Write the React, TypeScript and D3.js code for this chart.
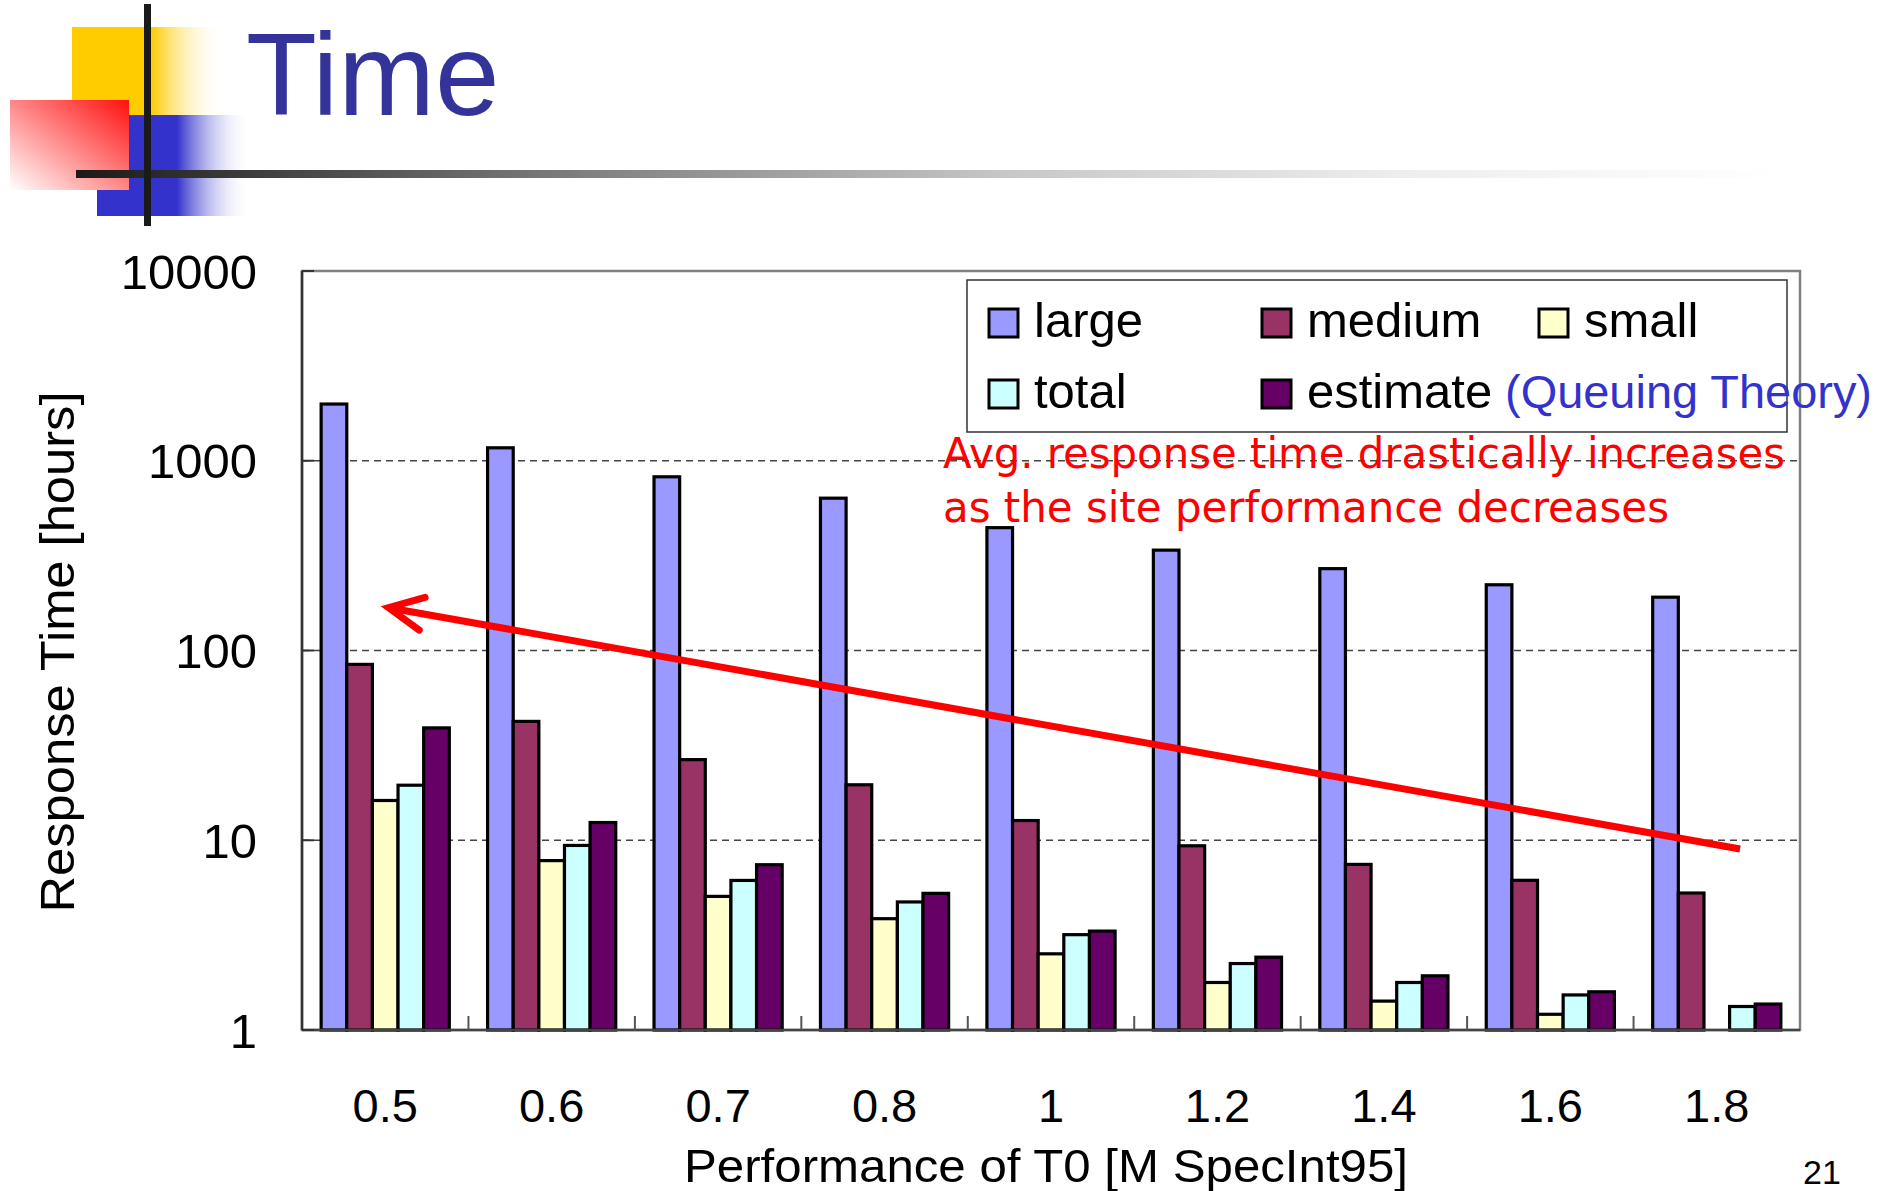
import React from "react";
import * as d3 from "d3";

const categories = ["0.5", "0.6", "0.7", "0.8", "1", "1.2", "1.4", "1.6", "1.8"];
const seriesNames = ["large", "medium", "small", "total", "estimate"];
const large = [1990, 1170, 823, 635, 444, 338, 270, 222, 191];
const medium = [84.5, 42.3, 26.6, 19.6, 12.7, 9.35, 7.46, 6.15, 5.27];
const small: (number | null)[] = [16.2, 7.81, 5.06, 3.86, 2.52, 1.78, 1.42, 1.21, null];
const total = [19.5, 9.39, 6.14, 4.73, 3.18, 2.24, 1.78, 1.53, 1.33];
const estimate = [39.1, 12.4, 7.43, 5.25, 3.32, 2.42, 1.93, 1.59, 1.37];
const seriesColors = ["#9999ff", "#993366", "#ffffcc", "#ccffff", "#660066"];
const yTicks = [1, 10, 100, 1000, 10000];
const gridValues = [10, 100, 1000];

const titleText = "Time";
const yTitle = "Response Time [hours]";
const xTitle = "Performance of T0 [M SpecInt95]";
const noteLines = ["Avg. response time drastically increases", "as the site performance decreases"];
const estimateNote = "(Queuing Theory)";
const pageNumber = "21";

// annotation arrow in data space: [category, fraction within band, value]
const arrowTail = { cat: "1.8", frac: 0.64, value: 9 };
const arrowTip = { cat: "0.5", frac: 0.52, value: 168 };

const seriesData = [large, medium, small, total, estimate];

const W = 1892;
const H = 1191;
const plot = { left: 302, right: 1800, top: 271, bottom: 1030 };
const ARIAL = "'Liberation Sans', Arial, sans-serif";

export default function App() {
  const x = d3.scaleBand<string>().domain(categories).range([plot.left, plot.right]).paddingInner(0).paddingOuter(0);
  const bw = x.bandwidth();
  const inner = d3.scaleBand<string>().domain(seriesNames).range([bw * 0.115, bw * 0.885]).padding(0);
  const y = d3.scaleLog().domain([1, 10000]).range([plot.bottom, plot.top]);

  const tailX = (x(arrowTail.cat) as number) + bw * arrowTail.frac;
  const tailY = y(arrowTail.value);
  const tipX = (x(arrowTip.cat) as number) + bw * arrowTip.frac;
  const tipY = y(arrowTip.value);
  const ang = Math.atan2(tailY - tipY, tailX - tipX);
  const barbLen = 38;
  const barbAng = (26 * Math.PI) / 180;
  const b1 = [tipX + barbLen * Math.cos(ang - barbAng), tipY + barbLen * Math.sin(ang - barbAng)];
  const b2 = [tipX + barbLen * Math.cos(ang + barbAng), tipY + barbLen * Math.sin(ang + barbAng)];

  const legend = { x: 967, y: 280, w: 820, h: 152 };
  const legendCols = [22, 295, 572];
  const legendRows = [29, 100];
  const legendPos = [
    [0, 0],
    [1, 0],
    [2, 0],
    [0, 1],
    [1, 1],
  ];

  return (
    <svg width={W} height={H} style={{ position: "absolute", left: 0, top: 0, background: "#fff" }}>
      <defs>
        <linearGradient id="gYellow" x1="0" y1="0" x2="1" y2="0">
          <stop offset="0" stopColor="#ffcc00" />
          <stop offset="0.52" stopColor="#ffcc00" />
          <stop offset="1" stopColor="#ffffff" stopOpacity="0" />
        </linearGradient>
        <linearGradient id="gBlue" x1="0" y1="0" x2="1" y2="0">
          <stop offset="0" stopColor="#3333cc" />
          <stop offset="0.52" stopColor="#3333cc" />
          <stop offset="1" stopColor="#ffffff" stopOpacity="0" />
        </linearGradient>
        <linearGradient id="gRed" x1="1" y1="0" x2="0" y2="1">
          <stop offset="0" stopColor="#ff1010" />
          <stop offset="1" stopColor="#ffffff" />
        </linearGradient>
        <linearGradient id="gLine" x1="0" y1="0" x2="1" y2="0">
          <stop offset="0" stopColor="#1a1a1a" />
          <stop offset="0.3" stopColor="#808080" />
          <stop offset="0.55" stopColor="#c8c8c8" />
          <stop offset="0.78" stopColor="#eeeeee" />
          <stop offset="1" stopColor="#ffffff" />
        </linearGradient>
      </defs>

      {/* slide decoration */}
      <rect x={72} y={27} width={152} height={88} fill="url(#gYellow)" />
      <rect x={97} y={115} width={154} height={101} fill="url(#gBlue)" />
      <rect x={10} y={100} width={119} height={90} fill="url(#gRed)" />
      <rect x={76} y={170} width={1704} height={8} fill="url(#gLine)" />
      <rect x={144} y={4} width={7} height={222} fill="#1a1a1a" />
      <text x={246} y={115} fontFamily={ARIAL} fontSize={116} fill="#333399">
        {titleText}
      </text>

      {/* plot frame */}
      <rect x={plot.left} y={plot.top} width={plot.right - plot.left} height={plot.bottom - plot.top} fill="#fff" stroke="#808080" strokeWidth={2.5} />

      {/* gridlines */}
      {gridValues.map((g) => (
        <line key={g} x1={plot.left} x2={plot.right} y1={y(g)} y2={y(g)} stroke="#444" strokeWidth={1.5} strokeDasharray="7,5" />
      ))}

      {/* bars */}
      {categories.map((c, i) => (
        <g key={c}>
          {seriesNames.map((s, si) => {
            const v = seriesData[si][i];
            if (v == null) return null;
            const bx = (x(c) as number) + (inner(s) as number);
            return (
              <rect
                key={s}
                x={bx}
                y={y(v)}
                width={inner.bandwidth()}
                height={y(1) - y(v)}
                fill={seriesColors[si]}
                stroke="#000"
                strokeWidth={3.2}
              />
            );
          })}
        </g>
      ))}

      {/* axes */}
      <line x1={plot.left} x2={plot.left} y1={plot.top} y2={plot.bottom} stroke="#333" strokeWidth={2.5} />
      <line x1={plot.left} x2={plot.right} y1={plot.bottom} y2={plot.bottom} stroke="#444" strokeWidth={2.5} />
      {yTicks.map((t) => (
        <line key={"yt" + t} x1={plot.left} x2={plot.left + 12} y1={y(t)} y2={y(t)} stroke="#333" strokeWidth={2} />
      ))}
      {categories.slice(1).map((c) => (
        <line key={"xt" + c} x1={x(c) as number} x2={x(c) as number} y1={plot.bottom} y2={plot.bottom - 14} stroke="#555" strokeWidth={2} />
      ))}

      {/* y tick labels */}
      {yTicks.map((t) => (
        <text key={"yl" + t} x={257} y={y(t)} dy="0.36em" textAnchor="end" fontFamily={ARIAL} fontSize={49} fill="#000">
          {String(t)}
        </text>
      ))}

      {/* x tick labels */}
      {categories.map((c) => (
        <text key={"xl" + c} x={(x(c) as number) + bw / 2} y={1122} textAnchor="middle" fontFamily={ARIAL} fontSize={47} fill="#000">
          {c}
        </text>
      ))}

      {/* axis titles */}
      <text x={1046} y={1182} textAnchor="middle" fontFamily={ARIAL} fontSize={47} fill="#000" textLength={724} lengthAdjust="spacingAndGlyphs">
        {xTitle}
      </text>
      <text transform={`translate(74,652) rotate(-90)`} textAnchor="middle" fontFamily={ARIAL} fontSize={48} fill="#000" textLength={521} lengthAdjust="spacingAndGlyphs">
        {yTitle}
      </text>

      {/* legend */}
      <rect x={legend.x} y={legend.y} width={legend.w} height={legend.h} fill="#fff" stroke="#333" strokeWidth={1.5} />
      {seriesNames.map((s, si) => {
        const [ci, ri] = legendPos[si];
        const lx = legend.x + legendCols[ci];
        const ly = legend.y + legendRows[ri];
        return (
          <g key={"lg" + s}>
            <rect x={lx} y={ly} width={29} height={28} fill={seriesColors[si]} stroke="#000" strokeWidth={3} />
            <text x={lx + 45} y={ly + 28} fontFamily={ARIAL} fontSize={49} fill="#000">
              {s}
            </text>
          </g>
        );
      })}
      <text x={1505} y={legend.y + legendRows[1] + 28} fontFamily={ARIAL} fontSize={47} fill="#3333cc" textLength={367} lengthAdjust="spacingAndGlyphs">
        {estimateNote}
      </text>

      {/* annotation */}
      <text x={943} y={468} fontFamily="'DejaVu Sans Condensed', 'DejaVu Sans', sans-serif" fontSize={43} fill="#ff0000" textLength={842} lengthAdjust="spacingAndGlyphs">
        {noteLines[0]}
      </text>
      <text x={943} y={522} fontFamily="'DejaVu Sans Condensed', 'DejaVu Sans', sans-serif" fontSize={43} fill="#ff0000" textLength={726} lengthAdjust="spacingAndGlyphs">
        {noteLines[1]}
      </text>
      <line x1={tailX} y1={tailY} x2={tipX} y2={tipY} stroke="#ff0000" strokeWidth={7} />
      <polyline
        points={`${b1[0]},${b1[1]} ${tipX},${tipY} ${b2[0]},${b2[1]}`}
        fill="none"
        stroke="#ff0000"
        strokeWidth={7}
        strokeLinecap="round"
        strokeLinejoin="miter"
      />

      <text x={1822} y={1184} textAnchor="middle" fontFamily={ARIAL} fontSize={34} fill="#000">
        {pageNumber}
      </text>
    </svg>
  );
}
